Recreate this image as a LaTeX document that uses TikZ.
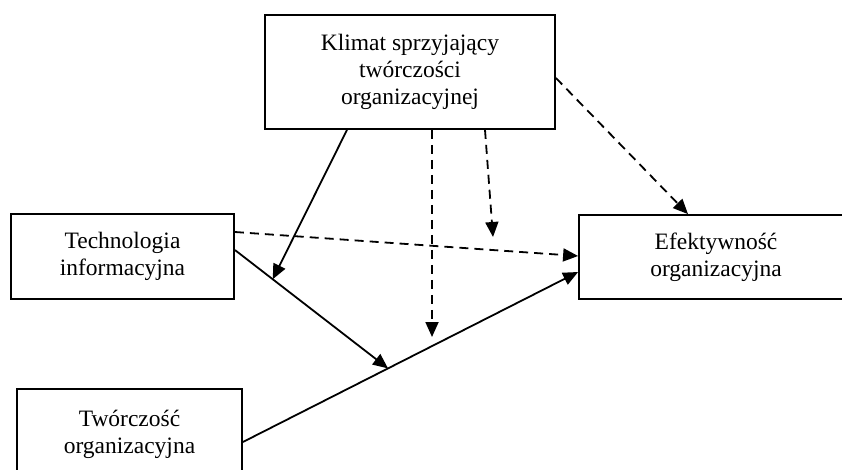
\documentclass[tikz,border=0pt]{standalone}
\usepackage{fontspec}
\setmainfont{Liberation Serif}
\usetikzlibrary{calc}
\usetikzlibrary{arrows.meta}

\begin{document}
\begin{tikzpicture}[x=1pt,y=-1pt,line width=1.8pt,
      font=\fontsize{23.5}{27}\selectfont,
      box style/.style={rectangle,draw=black,align=center,inner sep=0pt},
      arr style/.style={-{Triangle[length=15pt,width=13pt]}},
      dash style/.style={arr style,dash pattern=on 9pt off 6pt}
      ]
      \useasboundingbox (0,0) rectangle (842,470);
      \node[box style,minimum width=290pt,minimum height=114pt] (klim) at (410,72)
      {Klimat sprzyjający\\twórczości\\organizacyjnej};
      \node[box style,minimum width=223pt,minimum height=85pt] (tech) at (122.5,256.5)
      {Technologia\\informacyjna};
      \node[box style,minimum width=274pt,minimum height=84pt] (efek) at (716,257)
      {Efektywność\\organizacyjna};
      \node[box style,minimum width=225pt,minimum height=90pt] (tworcz) at (129.5,434)
      {Twórczość\\organizacyjna};
      \coordinate (tw1) at (tworcz.east |- 0,442);
      \coordinate (ef2) at (efek.west |- 0,272);
      \coordinate (te2) at (tech.east |- 0,250);
      \coordinate (m1) at ($(tw1)!0.433!(ef2)$);
      \coordinate (m2) at ($(te2)!0.247!(m1)$);
      \coordinate (m3) at (432,337);
      \coordinate (m4) at (493,237);
      \draw[arr style] (tw1) -- (ef2);
      \draw[arr style] (te2) -- (m1);
      \draw[arr style] (klim.south -| 347,0) -- (m2);
      \draw[dash style] (tech.east |- 0,232) -- (efek.west |- 0,256);
      \draw[dash style] (klim.south -| m3) -- (m3);
      \draw[dash style] (klim.south -| 485,0) -- (m4);
      \draw[dash style] (klim.east |- 0,78) -- (efek.north -| 688,0);
    \end{tikzpicture}
\end{document}
